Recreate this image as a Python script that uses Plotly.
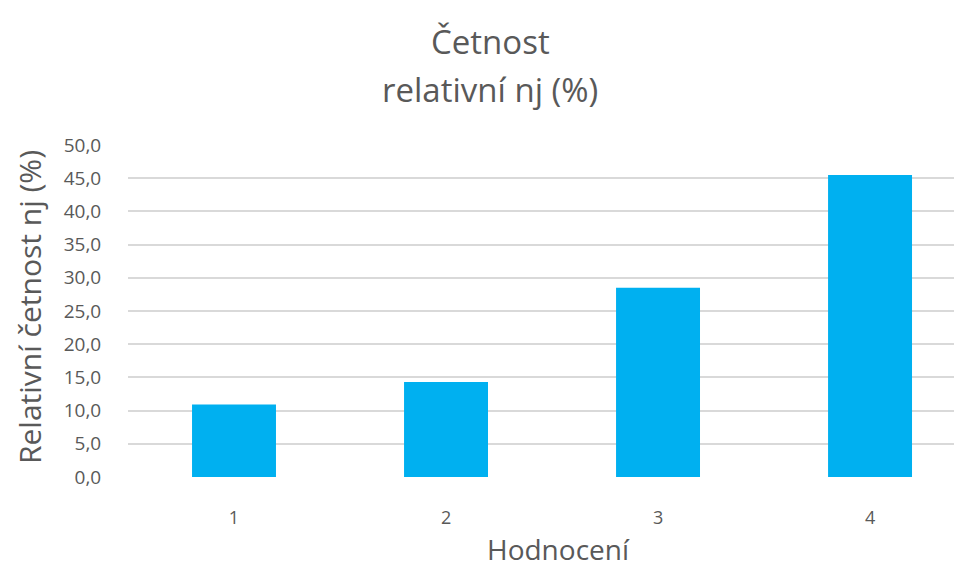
import plotly.graph_objects as go

# Relative frequency of each rating
categories = [1, 2, 3, 4]
relative_pct = [10.9, 14.3, 28.5, 45.5]
y_ticks = [0, 5, 10, 15, 20, 25, 30, 35, 40, 45, 50]

TEXT = "#595959"
FONT = "Open Sans"

# plot-area geometry (pixels)
L, R, T, B = 128, 0, 145, 93
W, H = 954, 570
PW, PH = W - L - R, H - T - B

fig = go.Figure(
    go.Bar(
        x=categories,
        y=relative_pct,
        width=0.396,
        marker=dict(color="#00B0F0", line=dict(width=0)),
    )
)

fig.update_layout(
    width=W,
    height=H,
    margin=dict(l=L, r=R, t=T, b=B),
    paper_bgcolor="white",
    plot_bgcolor="white",
    separators=", ",
    showlegend=False,
    font=dict(family=FONT, color=TEXT),
)

fig.update_xaxes(
    range=[0.5, 4.396],
    tickvals=categories,
    ticktext=[str(c) for c in categories],
    tickfont=dict(size=18, color=TEXT),
    ticks="outside",
    ticklen=24,
    tickcolor="rgba(0,0,0,0)",
    showgrid=False,
    zeroline=False,
    showline=False,
)

fig.update_yaxes(
    range=[0, 50],
    tickvals=y_ticks,
    tickformat=".1f",
    tickfont=dict(size=19, color=TEXT),
    ticks="outside",
    ticklen=22,
    tickcolor="rgba(0,0,0,0)",
    showgrid=True,
    gridcolor="#D9D9D9",
    gridwidth=1.5,
    zeroline=False,
    showline=False,
)


def px_x(x):
    return (x - L) / PW


def px_y(y):
    return 1 - (y - T) / PH


texts = [
    dict(text="Četnost", x=490, y=41, size=33, angle=0),
    dict(text="relativní nj (%)", x=490, y=89, size=33, angle=0),
    dict(text="Hodnocení", x=558, y=549, size=28, angle=0),
    dict(text="Relativní četnost nj (%)", x=29, y=307, size=30, angle=-90),
]
for a in texts:
    fig.add_annotation(
        text=a["text"],
        xref="paper", yref="paper",
        x=px_x(a["x"]), y=px_y(a["y"]),
        xanchor="center", yanchor="middle",
        textangle=a["angle"],
        showarrow=False,
        font=dict(family=FONT, size=a["size"], color=TEXT),
    )

fig.write_html("out.html")
